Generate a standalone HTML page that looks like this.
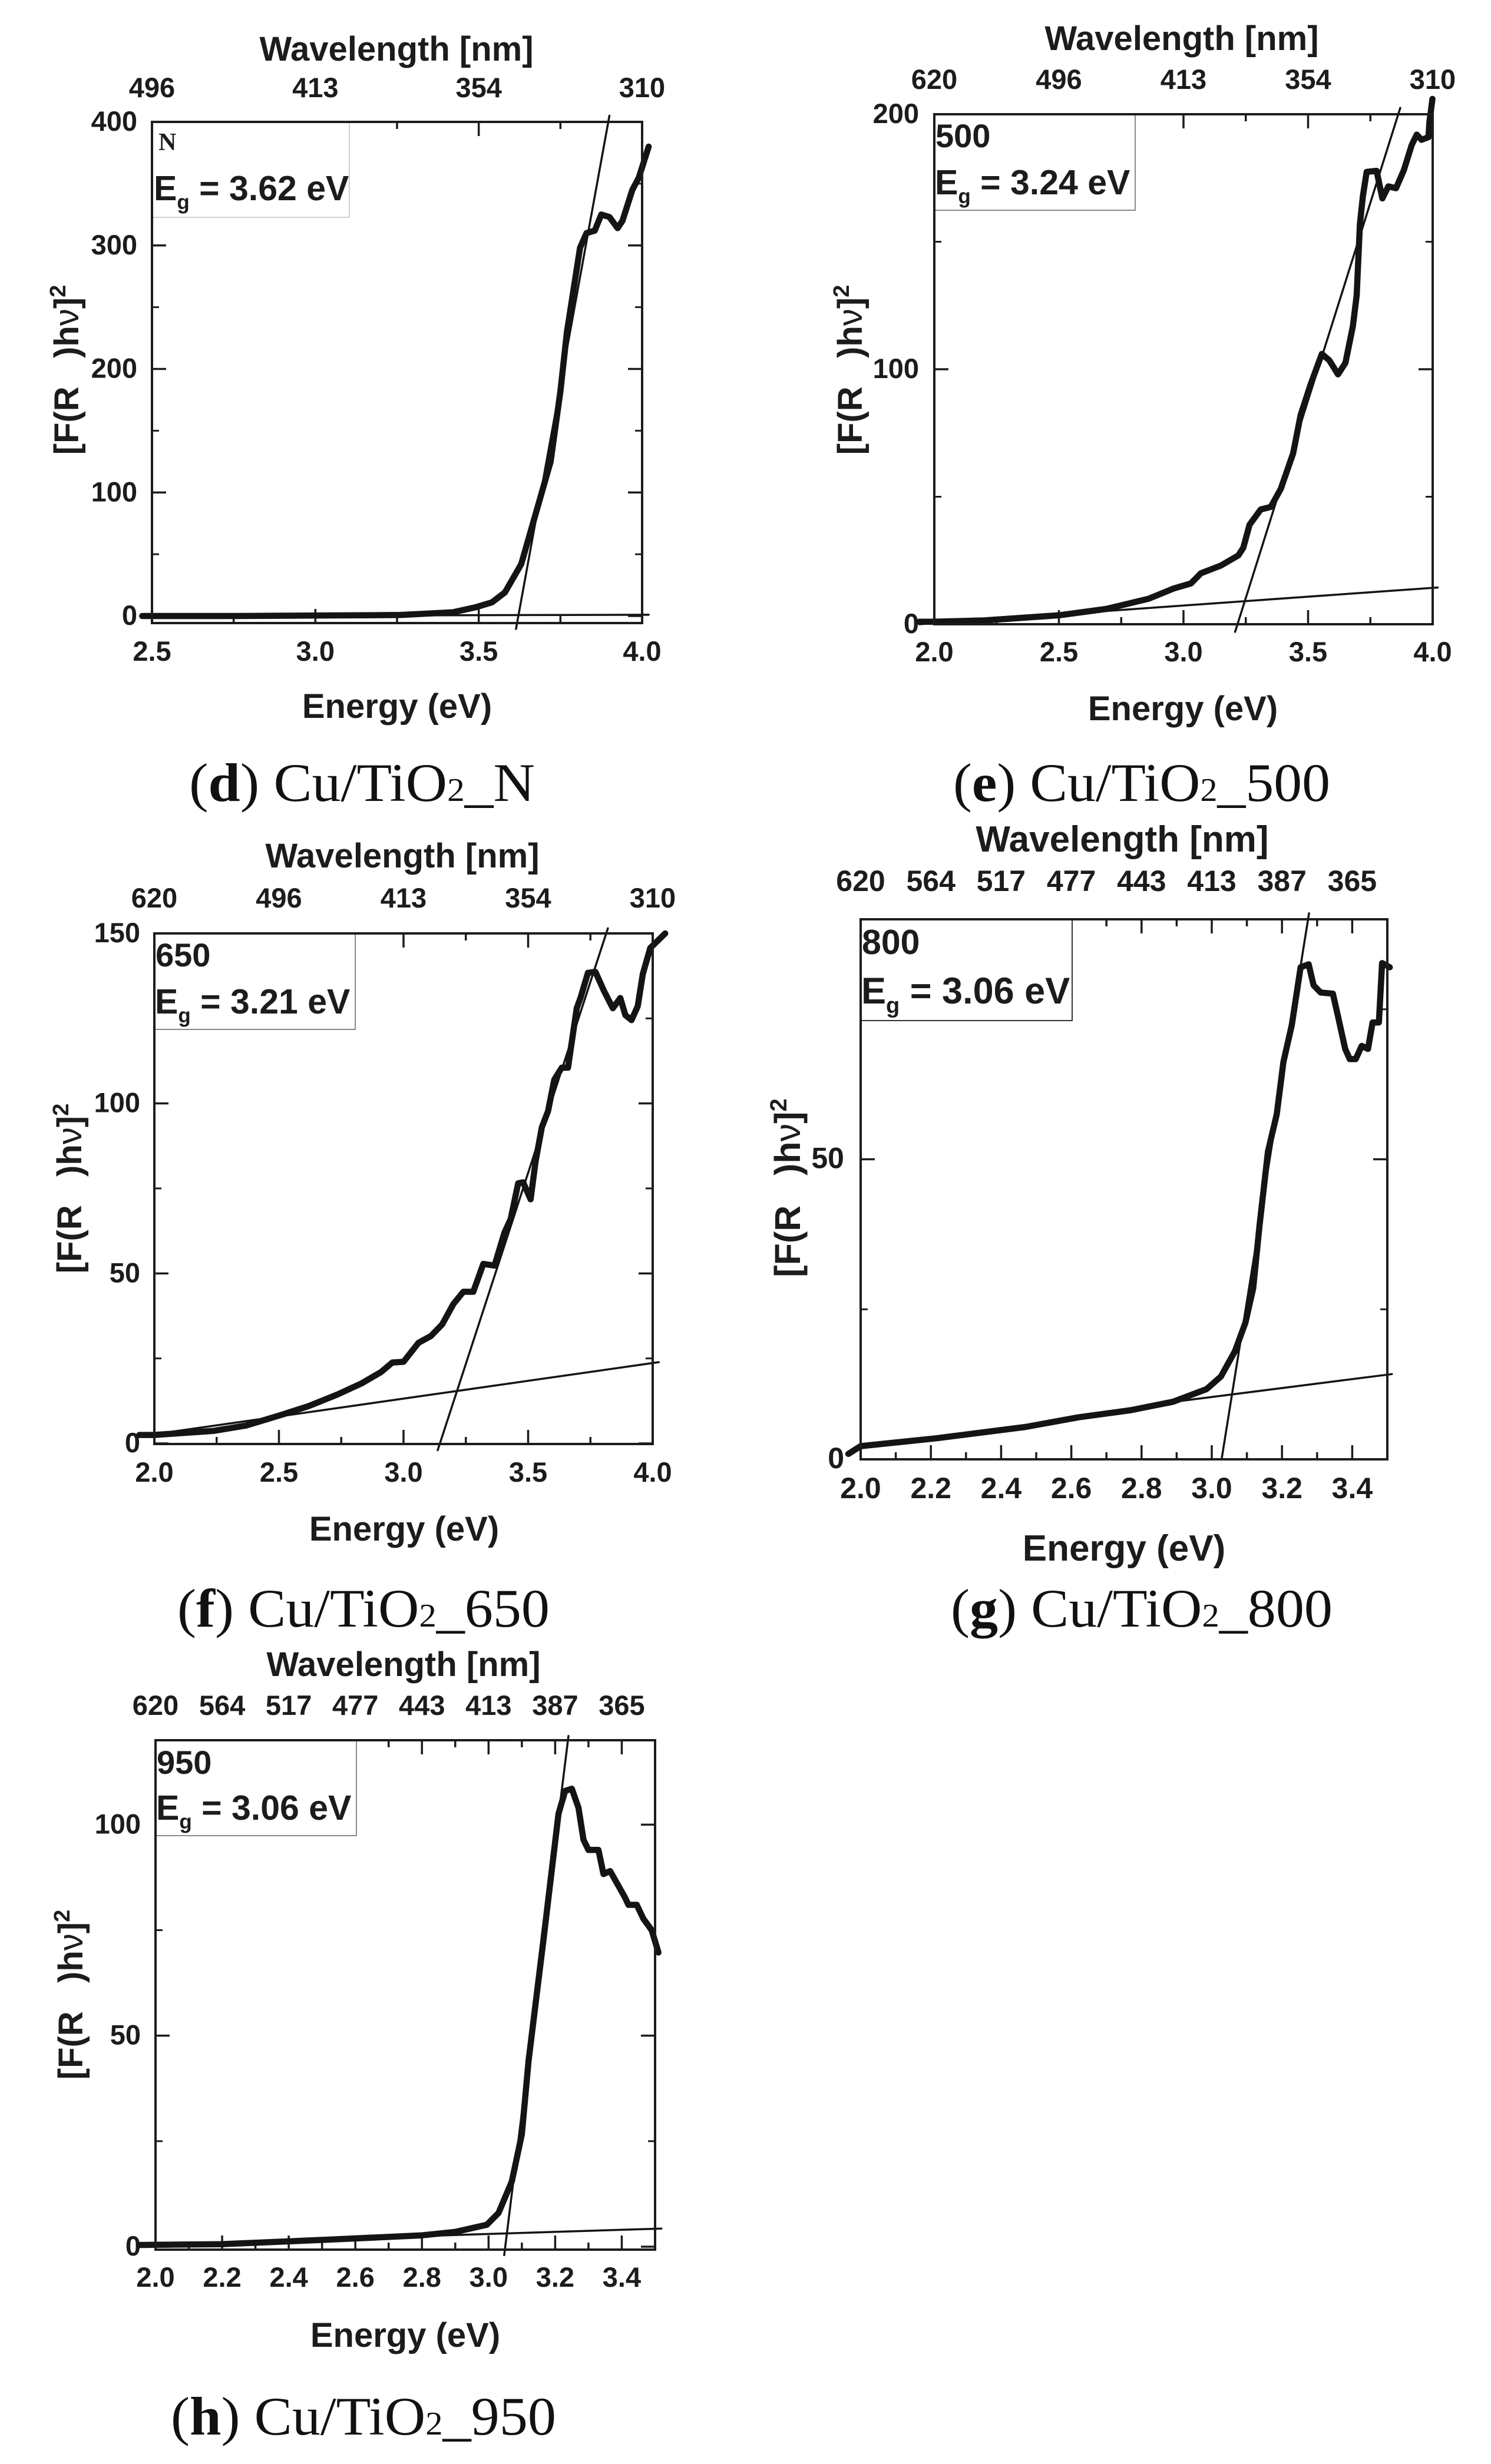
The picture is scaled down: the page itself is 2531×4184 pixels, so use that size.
<!DOCTYPE html>
<html lang="en">
<head>
<meta charset="utf-8">
<title>Tauc plots of Cu/TiO2 samples</title>
<style>
html,body{margin:0;padding:0;background:#fff;width:2531px;height:4184px;overflow:hidden}
svg{display:block}
text{font-family:"Liberation Sans",sans-serif;font-weight:700;fill:#1c1c1c}
.wl{font-size:58px;text-anchor:middle}
.en{font-size:58px;text-anchor:middle}
.yt{font-size:58px;text-anchor:middle}
.cap{font-family:"Liberation Serif",serif;font-weight:400;font-size:92px;fill:#111}
.cap .b{font-weight:700}
.cap .s{font-size:56px}
.lg{font-size:56px}
.eg{font-size:59px}
.frame{fill:none;stroke:#1c1c1c;stroke-width:4}
.box{fill:#fff;stroke:#8a8a8a;stroke-width:2}
</style>
</head>
<body>
<svg id="chart" xmlns="http://www.w3.org/2000/svg" width="2531" height="4184" viewBox="0 0 2531 4184">

<g id="panel-d">
  <g id="marks-d"></g>
  <rect class="box" x="258" y="207" width="335" height="162" style="stroke:#cfcfcf"/>
  <rect class="frame" x="258" y="207" width="832" height="851"/>
  <text x="269" y="255" style="font-family:'Liberation Serif',serif;font-size:42px">N</text>
  <text class="eg" x="261" y="340">E<tspan font-size="35" dy="15">g</tspan><tspan dy="-15"> = 3.62 eV</tspan></text>
  <text class="wl" x="673" y="103">Wavelength [nm]</text>
  <text class="en" x="674" y="1219">Energy (eV)</text>
  <text class="yt" transform="translate(133,628) rotate(-90)">[F(R<tspan xml:space="preserve">   </tspan>)h<tspan font-weight="400">ν</tspan>]<tspan font-size="38" dy="-22">2</tspan></text>
  <text class="cap" x="321" y="1360" textLength="587" lengthAdjust="spacingAndGlyphs">(<tspan class="b">d</tspan>) Cu/TiO<tspan class="s">2</tspan>_N</text>
</g>

<g id="panel-e">
  <g id="marks-e"></g>
  <rect class="box" x="1586" y="194" width="341" height="163"/>
  <rect class="frame" x="1586" y="194" width="846" height="866"/>
  <text class="lg" x="1588" y="250">500</text>
  <text class="eg" x="1587" y="330">E<tspan font-size="35" dy="15">g</tspan><tspan dy="-15"> = 3.24 eV</tspan></text>
  <text class="wl" x="2006" y="85">Wavelength [nm]</text>
  <text class="en" x="2008" y="1223">Energy (eV)</text>
  <text class="yt" transform="translate(1463,628) rotate(-90)">[F(R<tspan xml:space="preserve">   </tspan>)h<tspan font-weight="400">ν</tspan>]<tspan font-size="38" dy="-22">2</tspan></text>
  <text class="cap" x="1618" y="1360" textLength="640" lengthAdjust="spacingAndGlyphs">(<tspan class="b">e</tspan>) Cu/TiO<tspan class="s">2</tspan>_500</text>
</g>

<g id="panel-f">
  <g id="marks-f"></g>
  <rect class="box" x="262" y="1585" width="341" height="163"/>
  <rect class="frame" x="262" y="1585" width="846" height="867"/>
  <text class="lg" x="264" y="1641">650</text>
  <text class="eg" x="263" y="1721">E<tspan font-size="35" dy="15">g</tspan><tspan dy="-15"> = 3.21 eV</tspan></text>
  <text class="wl" x="683" y="1473">Wavelength [nm]</text>
  <text class="en" x="686" y="2616">Energy (eV)</text>
  <text class="yt" transform="translate(138,2018) rotate(-90)">[F(R<tspan xml:space="preserve">   </tspan>)h<tspan font-weight="400">ν</tspan>]<tspan font-size="38" dy="-22">2</tspan></text>
  <text class="cap" x="301" y="2762" textLength="632" lengthAdjust="spacingAndGlyphs">(<tspan class="b">f</tspan>) Cu/TiO<tspan class="s">2</tspan>_650</text>
</g>

<g id="panel-g">
  <g id="marks-g"></g>
  <rect class="box" x="1461" y="1561" width="359" height="172" style="stroke:#333"/>
  <rect class="frame" x="1461" y="1561" width="894" height="917"/>
  <text class="lg" x="1463" y="1620" style="font-size:59px">800</text>
  <text class="eg" x="1462" y="1704" style="font-size:63px">E<tspan font-size="38" dy="16">g</tspan><tspan dy="-16"> = 3.06 eV</tspan></text>
  <text class="wl" x="1905" y="1446" style="font-size:62px">Wavelength [nm]</text>
  <text class="en" x="1908" y="2650" style="font-size:62px">Energy (eV)</text>
  <text class="yt" transform="translate(1358,2017) rotate(-90)" style="font-size:61px">[F(R<tspan xml:space="preserve">   </tspan>)h<tspan font-weight="400">ν</tspan>]<tspan font-size="40" dy="-23">2</tspan></text>
  <text class="cap" x="1614" y="2762" textLength="648" lengthAdjust="spacingAndGlyphs">(<tspan class="b">g</tspan>) Cu/TiO<tspan class="s">2</tspan>_800</text>
</g>

<g id="panel-h">
  <g id="marks-h"></g>
  <rect class="box" x="264" y="2955" width="341" height="162"/>
  <rect class="frame" x="264" y="2955" width="848" height="865"/>
  <text class="lg" x="266" y="3012">950</text>
  <text class="eg" x="265" y="3090">E<tspan font-size="35" dy="15">g</tspan><tspan dy="-15"> = 3.06 eV</tspan></text>
  <text class="wl" x="685" y="2846">Wavelength [nm]</text>
  <text class="en" x="688" y="3985">Energy (eV)</text>
  <text class="yt" transform="translate(140,3387) rotate(-90)">[F(R<tspan xml:space="preserve">   </tspan>)h<tspan font-weight="400">ν</tspan>]<tspan font-size="38" dy="-22">2</tspan></text>
  <text class="cap" x="290" y="4134" textLength="654" lengthAdjust="spacingAndGlyphs">(<tspan class="b">h</tspan>) Cu/TiO<tspan class="s">2</tspan>_950</text>
</g>
</svg>

<script>
// Panel d: Cu/TiO2_N
const energyD = [2.47,2.76,3.26,3.42,3.49,3.54,3.58,3.63,3.68,3.72,3.75,3.77,3.81,3.83,3.855,3.875,3.90,3.925,3.94,3.97,3.99,4.02];
const signalD = [0,0,0.8,3,7,11,19,42,88,125,182,230,298,310,312,325,323,314,320,345,355,380];
const tangentEnergyD = [3.614,3.90];
const tangentSignalD = [-10.5,405];
const baselineEnergyD = [2.47,4.02];
const baselineSignalD = [0,1];
const xMajorD = [2.5,3.0,3.5,4.0];
const xMinorD = [2.75,3.25,3.75];
const yMajorD = [0,100,200,300,400];
const yMinorD = [50,150,250,350];
const topLabelsD = ["496","413","354","310"];

// Panel e: Cu/TiO2_500
const energyE = [1.94,2.0,2.2,2.5,2.69,2.86,2.96,3.03,3.07,3.15,3.22,3.24,3.265,3.31,3.35,3.39,3.44,3.47,3.51,3.555,3.585,3.62,3.65,3.68,3.695,3.708,3.72,3.735,3.775,3.798,3.822,3.853,3.884,3.916,3.936,3.955,3.983,3.987,3.999];
const signalE = [1,1,1.5,3.5,6,10,14,16,20,23,27,30,39,45,46,53,67,82,94,106,103.5,98,102.5,117,129,157,168,177.4,177.8,167,171.7,171,178,188,192,190,191,197,206];
const tangentEnergyE = [3.207,3.87];
const tangentSignalE = [-3,202.5];
const baselineEnergyE = [1.94,4.02];
const baselineSignalE = [0,14.4];
const xMajorE = [2.0,2.5,3.0,3.5,4.0];
const xMinorE = [2.25,2.75,3.25,3.75];
const yMajorE = [0,100,200];
const yMinorE = [50,150];
const topLabelsE = ["620","496","413","354","310"];

// Panel f: Cu/TiO2_650
const energyF = [1.94,2.0,2.24,2.37,2.51,2.62,2.735,2.83,2.91,2.955,3.0,3.06,3.11,3.155,3.20,3.24,3.28,3.32,3.365,3.405,3.43,3.46,3.48,3.51,3.53,3.555,3.58,3.605,3.635,3.66,3.695,3.71,3.74,3.77,3.805,3.84,3.87,3.89,3.915,3.94,3.96,3.99,4.05];
const signalF = [2.5,2.5,3.7,5.3,8.4,11,14.4,17.6,21,23.8,24,29.6,31.6,35,41,44.6,44.6,52.8,52.3,62,66,76.5,76.8,71.8,83,93,97.7,107,110.5,110.5,128,131,138.4,138.7,133,128,131,126,124.5,128.6,138,145.7,150];
const tangentEnergyF = [3.137,3.82];
const tangentSignalF = [-2,151.5];
const baselineEnergyF = [2.0,4.024];
const baselineSignalF = [2.7,23.9];
const xMajorF = [2.0,2.5,3.0,3.5,4.0];
const xMinorF = [2.25,2.75,3.25,3.75];
const yMajorF = [0,50,100,150];
const yMinorF = [25,75,125];
const topLabelsF = ["620","496","413","354","310"];

// Panel g: Cu/TiO2_800
const energyG = [1.965,2.0,2.215,2.47,2.62,2.77,2.89,2.985,3.026,3.066,3.096,3.118,3.136,3.16,3.185,3.204,3.228,3.253,3.276,3.29,3.31,3.345,3.36,3.38,3.393,3.41,3.427,3.445,3.458,3.476,3.485,3.507];
const signalG = [0.9,2.2,3.5,5.4,7,8.2,9.6,11.7,13.8,18,22.8,28.5,39,51.3,57.5,66.2,72.4,82,82.5,79,77.8,77.6,73.7,68.4,66.7,66.7,68.9,68.4,72.8,72.8,82.7,82];
const tangentEnergyG = [3.028,3.277];
const tangentSignalG = [0,91];
const baselineEnergyG = [2.8,3.513];
const baselineSignalG = [8.9,14.2];
const xMajorG = [2.0,2.2,2.4,2.6,2.8,3.0,3.2,3.4];
const xMinorG = [2.1,2.3,2.5,2.7,2.9,3.1,3.3];
const yMajorG = [0,50];
const yMinorG = [25,75];
const topLabelsG = ["620","564","517","477","443","413","387","365"];

// Panel h: Cu/TiO2_950
const energyH = [1.95,2.2,2.53,2.8,2.9,2.995,3.03,3.07,3.10,3.12,3.145,3.165,3.195,3.21,3.23,3.25,3.27,3.285,3.30,3.33,3.345,3.365,3.41,3.42,3.445,3.465,3.49,3.51];
const signalH = [0.4,0.6,1.7,2.7,3.5,5.2,8,15.5,26.7,44,60,72.8,92.7,102.6,108,108.5,104,96.4,94,94,88.3,89,82.7,81,81,77.7,75,69.7];
const tangentEnergyH = [3.047,3.24];
const tangentSignalH = [-2,121];
const baselineEnergyH = [1.95,3.519];
const baselineSignalH = [0.4,4.3];
const xMajorH = [2.0,2.2,2.4,2.6,2.8,3.0,3.2,3.4];
const xMinorH = [2.1,2.3,2.5,2.7,2.9,3.1,3.3];
const yMajorH = [0,50,100];
const yMinorH = [25,75];
const topLabelsH = ["620","564","517","477","443","413","387","365"];

const NS = "http://www.w3.org/2000/svg";

const panels = [
  {id:"d",tickFont:47,x0:2.5,x1:4.0,px0:258,px1:1090,yTop:400,py0:1046,pyTop:207,frameTop:207,frameBottom:1058,xLabelY:1122,topLabelY:165,yLabelRight:233,
   energy:energyD,signal:signalD,tanE:tangentEnergyD,tanS:tangentSignalD,baseE:baselineEnergyD,baseS:baselineSignalD,xMajor:xMajorD,xMinor:xMinorD,yMajor:yMajorD,yMinor:yMinorD,topLabels:topLabelsD},
  {id:"e",tickFont:47,x0:2.0,x1:4.0,px0:1586,px1:2432,yTop:200,py0:1060,pyTop:194,frameTop:194,frameBottom:1060,xLabelY:1123,topLabelY:151,yLabelRight:1560,
   energy:energyE,signal:signalE,tanE:tangentEnergyE,tanS:tangentSignalE,baseE:baselineEnergyE,baseS:baselineSignalE,xMajor:xMajorE,xMinor:xMinorE,yMajor:yMajorE,yMinor:yMinorE,topLabels:topLabelsE},
  {id:"f",tickFont:47,x0:2.0,x1:4.0,px0:262,px1:1108,yTop:150,py0:2451,pyTop:1585,frameTop:1585,frameBottom:2452,xLabelY:2516,topLabelY:1541,yLabelRight:238,
   energy:energyF,signal:signalF,tanE:tangentEnergyF,tanS:tangentSignalF,baseE:baselineEnergyF,baseS:baselineSignalF,xMajor:xMajorF,xMinor:xMinorF,yMajor:yMajorF,yMinor:yMinorF,topLabels:topLabelsF},
  {id:"g",tickFont:50,x0:2.0,x1:3.5,px0:1461,px1:2355,yTop:90,py0:2478,pyTop:1561,frameTop:1561,frameBottom:2478,xLabelY:2544,topLabelY:1513,yLabelRight:1433,
   energy:energyG,signal:signalG,tanE:tangentEnergyG,tanS:tangentSignalG,baseE:baselineEnergyG,baseS:baselineSignalG,xMajor:xMajorG,xMinor:xMinorG,yMajor:yMajorG,yMinor:yMinorG,topLabels:topLabelsG},
  {id:"h",tickFont:47,x0:2.0,x1:3.5,px0:264,px1:1112,yTop:120,py0:3815,pyTop:2955,frameTop:2955,frameBottom:3820,xLabelY:3883,topLabelY:2912,yLabelRight:239,
   energy:energyH,signal:signalH,tanE:tangentEnergyH,tanS:tangentSignalH,baseE:baselineEnergyH,baseS:baselineSignalH,xMajor:xMajorH,xMinor:xMinorH,yMajor:yMajorH,yMinor:yMinorH,topLabels:topLabelsH}
];

function drawLine(g, name, x1, y1, x2, y2, w) {
  const el = document.createElementNS(NS, "line");
  
  
  el.setAttribute("x1", x1);
  el.setAttribute("y1", y1);
  el.setAttribute("x2", x2);
  el.setAttribute("y2", y2);
  el.setAttribute("stroke", "#1c1c1c");
  el.setAttribute("stroke-width", w);
  g.appendChild(el);
}

function drawText(g, name, x, y, anchor, str) {
  const el = document.createElementNS(NS, "text");
  
  
  el.setAttribute("x", x);
  el.setAttribute("y", y);
  el.setAttribute("text-anchor", anchor);
  el.textContent = str;
  g.appendChild(el);
}

function drawSeries(g, name, xs, ys, sx, sy, w) {
  const el = document.createElementNS(NS, "polyline");
  
  
  el.setAttribute("points", xs.map((v, i) => sx(v).toFixed(1) + "," + sy(ys[i]).toFixed(1)).join(" "));
  el.setAttribute("fill", "none");
  el.setAttribute("stroke", "#141414");
  el.setAttribute("stroke-width", w);
  el.setAttribute("stroke-linejoin", "round");
  el.setAttribute("stroke-linecap", "round");
  g.appendChild(el);
}

panels.forEach(p => {
  const g = document.getElementById("marks-" + p.id);
  g.style.fontSize = p.tickFont + "px";
  const sx = v => p.px0 + (v - p.x0) / (p.x1 - p.x0) * (p.px1 - p.px0);
  const sy = v => p.py0 - v / p.yTop * (p.py0 - p.pyTop);
  const MAJ = 24, MIN = 12;

  p.xMajor.forEach((v, i) => {
    const x = sx(v);
    drawLine(g, "x-major-tick-bottom", x, p.frameBottom, x, p.frameBottom - MAJ, 3.5);
    drawLine(g, "x-major-tick-top", x, p.frameTop, x, p.frameTop + MAJ, 3.5);
    drawText(g, "x-tick-label", x, p.xLabelY, "middle", v.toFixed(1));
    drawText(g, "top-wavelength-label", x, p.topLabelY, "middle", p.topLabels[i]);
  });
  p.xMinor.forEach(v => {
    const x = sx(v);
    drawLine(g, "x-minor-tick-bottom", x, p.frameBottom, x, p.frameBottom - MIN, 3.5);
    drawLine(g, "x-minor-tick-top", x, p.frameTop, x, p.frameTop + MIN, 3.5);
  });
  p.yMajor.forEach(v => {
    const y = sy(v);
    drawLine(g, "y-major-tick-left", p.px0, y, p.px0 + MAJ, y, 3.5);
    drawLine(g, "y-major-tick-right", p.px1, y, p.px1 - MAJ, y, 3.5);
    drawText(g, "y-tick-label", p.yLabelRight, y + 15, "end", String(v));
  });
  p.yMinor.forEach(v => {
    const y = sy(v);
    drawLine(g, "y-minor-tick-left", p.px0, y, p.px0 + MIN, y, 3);
    drawLine(g, "y-minor-tick-right", p.px1, y, p.px1 - MIN, y, 3);
  });

  drawSeries(g, "baseline-fit-line", p.baseE, p.baseS, sx, sy, 3.5);
  drawSeries(g, "tangent-fit-line", p.tanE, p.tanS, sx, sy, 3.5);
  drawSeries(g, "absorption-curve", p.energy, p.signal, sx, sy, 10.5);
});
</script>
</body>
</html>
